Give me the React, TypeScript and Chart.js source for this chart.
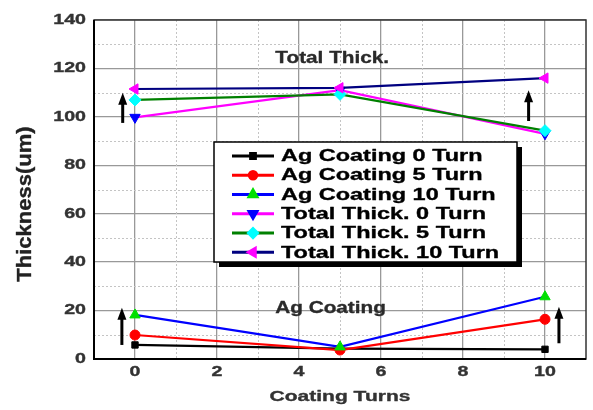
import React, { useEffect, useRef } from "react";
import { Chart, registerables } from "chart.js";
import { drawPoint } from "chart.js/helpers";

Chart.register(...registerables);

// ---- data ----
const turns = [0, 5, 10];
const agCoating0 = [5.8, 4.3, 4.0];
const agCoating5 = [9.9, 3.7, 16.4];
const agCoating10 = [18.2, 5.0, 25.7];
const totalThick0 = [99.8, 111, 93];
const totalThick5 = [107, 109.3, 94.3];
const totalThick10 = [111.5, 112, 116];

const seriesLabels = [
  "Ag Coating 0 Turn",
  "Ag Coating 5 Turn",
  "Ag Coating 10 Turn",
  "Total Thick. 0 Turn",
  "Total Thick. 5 Turn",
  "Total Thick. 10 Turn",
];

const xTicks = [0, 2, 4, 6, 8, 10];
const xMinorTicks = [1, 3, 5, 7, 9];
const yTicks = [0, 20, 40, 60, 80, 100, 120, 140];
const yMinorTicks = [10, 30, 50, 70, 90, 110, 130];

const arrowX = [-0.3, 9.6, -0.32, 10.34];
const arrowFrom = [97.5, 98.3, 5.8, 6.5];
const arrowTo = [110, 111, 21.2, 21.6];

const noteText = ["Total Thick.", "Ag Coating"];
const noteX = [4.81, 4.77];
const noteY = [124.3, 21];

const xTitle = "Coating Turns";
const yTitle = "Thickness(um)";

const FONT = "'Liberation Sans', Arial, sans-serif";

function stretchText(
  ctx: CanvasRenderingContext2D,
  text: string,
  x: number,
  y: number,
  size: number,
  sx: number,
  color: string,
  align: CanvasTextAlign,
  heavy = 0.35
) {
  ctx.save();
  ctx.font = `bold ${size}px ${FONT}`;
  ctx.fillStyle = color;
  ctx.strokeStyle = color;
  ctx.lineWidth = heavy;
  ctx.lineJoin = "round";
  ctx.textBaseline = "middle";
  ctx.textAlign = align;
  ctx.translate(x, y);
  ctx.scale(sx, 1);
  ctx.fillText(text, 0, 0);
  if (heavy > 0) ctx.strokeText(text, 0, 0);
  ctx.restore();
}

const decorPlugin = {
  id: "decor",
  beforeDatasetsDraw(chart: any) {
    const { ctx, chartArea: a, scales } = chart;
    const xs = scales.x;
    const ys = scales.y;
    ctx.save();
    ctx.strokeStyle = "#c4c4c4";
    ctx.lineWidth = 1;
    ctx.setLineDash([2, 2]);
    xMinorTicks.forEach((v) => {
      const px = Math.round(xs.getPixelForValue(v)) + 0.5;
      ctx.beginPath();
      ctx.moveTo(px, a.top);
      ctx.lineTo(px, a.bottom);
      ctx.stroke();
    });
    yMinorTicks.forEach((v) => {
      const py = Math.round(ys.getPixelForValue(v)) + 0.5;
      ctx.beginPath();
      ctx.moveTo(a.left, py);
      ctx.lineTo(a.right, py);
      ctx.stroke();
    });
    ctx.restore();
  },
  afterDatasetsDraw(chart: any) {
    const { ctx, chartArea: a } = chart;
    ctx.save();
    ctx.strokeStyle = "#333";
    ctx.lineWidth = 1.5;
    ctx.strokeRect(a.left, a.top, a.right - a.left, a.bottom - a.top);
    ctx.strokeStyle = "#000";
    ctx.lineWidth = 2;
    ctx.beginPath();
    ctx.moveTo(a.left, a.top);
    ctx.lineTo(a.left, a.bottom);
    ctx.lineTo(a.right, a.bottom);
    ctx.stroke();
    ctx.restore();
  },
  afterDraw(chart: any) {
    const { ctx, chartArea: a, scales } = chart;
    const xs = scales.x;
    const ys = scales.y;

    // arrows
    ctx.save();
    ctx.fillStyle = "#000";
    ctx.strokeStyle = "#000";
    arrowX.forEach((xv, i) => {
      const px = xs.getPixelForValue(xv);
      const y0 = ys.getPixelForValue(arrowFrom[i]);
      const y1 = ys.getPixelForValue(arrowTo[i]);
      ctx.lineWidth = 3;
      ctx.beginPath();
      ctx.moveTo(px, y0);
      ctx.lineTo(px, y1 + 8);
      ctx.stroke();
      ctx.beginPath();
      ctx.moveTo(px, y1);
      ctx.lineTo(px - 4.5, y1 + 12);
      ctx.lineTo(px + 4.5, y1 + 12);
      ctx.closePath();
      ctx.fill();
    });
    ctx.restore();

    // notes
    noteText.forEach((t, i) => {
      stretchText(ctx, t, xs.getPixelForValue(noteX[i]), ys.getPixelForValue(noteY[i]), 17, 1.22, "#2a2a2a", "center");
    });

    // tick labels
    yTicks.forEach((v) => {
      stretchText(ctx, String(v), a.left - 8, ys.getPixelForValue(v), 14, 1.4, "#333", "right");
    });
    xTicks.forEach((v) => {
      stretchText(ctx, String(v), xs.getPixelForValue(v), a.bottom + 13, 14, 1.4, "#333", "center");
    });

    // axis titles
    stretchText(ctx, xTitle, (a.left + a.right) / 2, a.bottom + 38, 15, 1.4, "#333", "center");
    ctx.save();
    ctx.translate(25, 204);
    ctx.rotate(-Math.PI / 2);
    stretchText(ctx, yTitle, 0, 0, 20, 1.1, "#222", "center");
    ctx.restore();

    // legend
    const L = 214, T = 142, R = 517, B = 262;
    ctx.save();
    ctx.fillStyle = "#000";
    ctx.fillRect(L + 5, T + 5, R - L, B - T);
    ctx.fillStyle = "#fff";
    ctx.fillRect(L, T, R - L, B - T);
    ctx.strokeStyle = "#000";
    ctx.lineWidth = 1.5;
    ctx.strokeRect(L, T, R - L, B - T);
    chart.data.datasets.forEach((ds: any, i: number) => {
      const cy = 156 + i * 19.27;
      ctx.strokeStyle = ds.borderColor;
      ctx.lineWidth = 3;
      ctx.beginPath();
      ctx.moveTo(232, cy);
      ctx.lineTo(274, cy);
      ctx.stroke();
      ctx.fillStyle = ds.pointBackgroundColor;
      ctx.strokeStyle = ds.pointBorderColor;
      drawPoint(ctx, {
        pointStyle: ds.pointStyle,
        radius: ds.pointRadius * 0.75,
        rotation: ds.pointRotation || 0,
        borderWidth: 1,
      } as any, 253, cy);
      stretchText(ctx, ds.label, 281, cy + 0.5, 17, 1.38, "#000", "left");
    });
    ctx.restore();
  },
};

function mk(label: string, values: number[], line: string, mark: string, style: string, radius: number, rot = 0, order = 0) {
  return {
    label,
    data: turns.map((t, i) => ({ x: t, y: values[i] })),
    borderColor: line,
    backgroundColor: line,
    borderWidth: 2.2,
    pointBackgroundColor: mark,
    pointBorderColor: mark,
    pointBorderWidth: 1,
    pointStyle: style,
    pointRadius: radius,
    pointRotation: rot,
    showLine: true,
    tension: 0,
    order,
  };
}

export default function App() {
  const ref = useRef<HTMLCanvasElement>(null);
  useEffect(() => {
    document.body.style.margin = "0";
    const chart = new Chart(ref.current!, {
      type: "line",
      data: {
        datasets: [
          mk(seriesLabels[0], agCoating0, "#000000", "#000000", "rect", 4.5, 0, 2),
          mk(seriesLabels[1], agCoating5, "#ff0000", "#ff0000", "circle", 5, 0, 1),
          mk(seriesLabels[2], agCoating10, "#0000ff", "#00e000", "triangle", 6, 0, 0),
          mk(seriesLabels[3], totalThick0, "#ff00ff", "#0000ff", "triangle", 6, 180, 2),
          mk(seriesLabels[4], totalThick5, "#008000", "#00ffff", "rectRot", 6, 0, 1),
          mk(seriesLabels[5], totalThick10, "#000080", "#ff00ff", "triangle", 6, -90, 0),
        ] as any,
      },
      options: {
        animation: false,
        responsive: true,
        maintainAspectRatio: false,
        layout: { padding: { left: 94, right: 4, top: 20, bottom: 51 } },
        plugins: { legend: { display: false }, tooltip: { enabled: false } },
        scales: {
          x: {
            type: "linear",
            min: -1,
            max: 11,
            afterBuildTicks: (s: any) => {
              s.ticks = xTicks.map((v) => ({ value: v }));
            },
            afterFit: (s: any) => {
              s.height = 0;
            },
            ticks: { display: false },
            grid: { color: "#999", lineWidth: 1.3, drawTicks: false },
            border: { display: false },
          },
          y: {
            type: "linear",
            min: 0,
            max: 140,
            afterBuildTicks: (s: any) => {
              s.ticks = yTicks.map((v) => ({ value: v }));
            },
            afterFit: (s: any) => {
              s.width = 0;
            },
            ticks: { display: false },
            grid: { color: "#999", lineWidth: 1.3, drawTicks: false },
            border: { display: false },
          },
        },
      },
      plugins: [decorPlugin],
    });
    return () => chart.destroy();
  }, []);
  return (
    <div style={{ width: 593, height: 410, position: "relative" }}>
      <canvas ref={ref} />
    </div>
  );
}
